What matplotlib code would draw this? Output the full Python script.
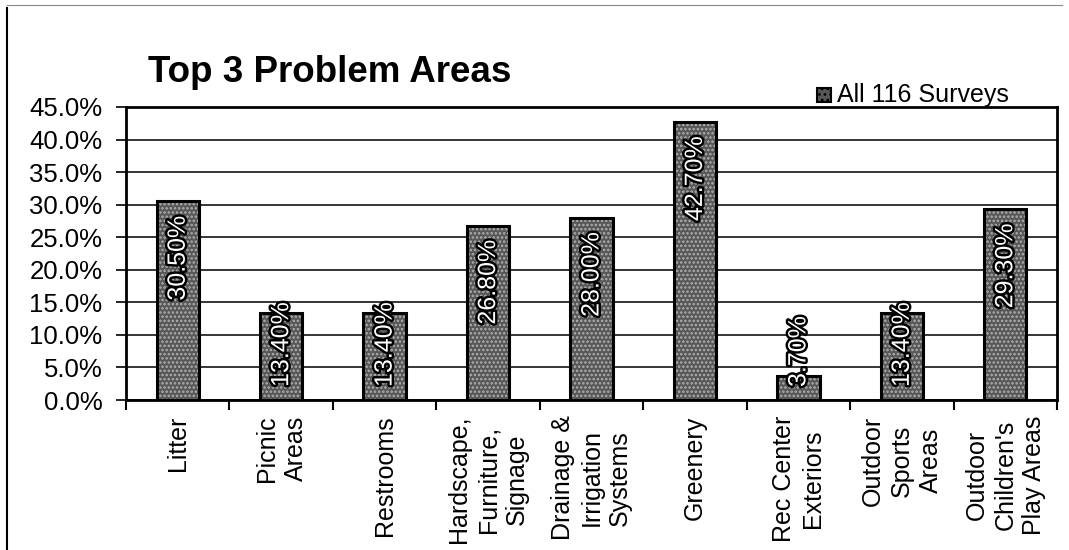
import matplotlib
matplotlib.use("Agg")
import matplotlib.pyplot as plt
import matplotlib.patheffects as pe
from matplotlib.lines import Line2D
from matplotlib.patches import Rectangle

plt.rcParams['font.family'] = ['Liberation Sans', 'DejaVu Sans']
plt.rcParams['hatch.linewidth'] = 1.2

categories = ["Litter", "Picnic\nAreas", "Restrooms", "Hardscape,\nFurniture,\nSignage",
              "Drainage &\nIrrigation\nSystems", "Greenery", "Rec Center\nExteriors",
              "Outdoor\nSports\nAreas", "Outdoor\nChildren's\nPlay Areas"]
values = [30.50, 13.40, 13.40, 26.80, 28.00, 42.70, 3.70, 13.40, 29.30]
yticks = [0, 5, 10, 15, 20, 25, 30, 35, 40, 45]
title = "Top 3 Problem Areas"
series_name = "All 116 Surveys"

W, H = 1069, 550
fig = plt.figure(figsize=(W / 100, H / 100), dpi=100)
ax = fig.add_axes([126 / W, 1 - 400 / H, (1057 - 126) / W, (400 - 107) / H])

x = list(range(len(categories)))
face = '#575757'
ax.bar(x, values, width=0.41, color=face, edgecolor='black', linewidth=2, zorder=3)
ax.bar(x, values, width=0.41, facecolor='none', edgecolor='#b0b0b0', hatch='....',
       linewidth=0, zorder=3.5)
ax.bar(x, values, width=0.41, facecolor='none', edgecolor='black', linewidth=2.2, zorder=3.6)

ax.set_xlim(-0.5, len(categories) - 0.5)
ax.set_ylim(0, 45)
ax.set_yticks(yticks)
ax.set_yticklabels([f"{v:.1f}%" for v in yticks], fontsize=18.5)
ax.set_xticks(x)
ax.set_xticklabels(categories, rotation=90, fontsize=18, ha='center', va='top',
                   multialignment='center', linespacing=1.25)
ax.set_xticks([i - 0.5 for i in range(len(categories) + 1)], minor=True)
ax.tick_params(axis='x', which='major', length=0, pad=11)
ax.tick_params(axis='x', which='minor', length=7, width=1.5, direction='out')
ax.tick_params(axis='y', length=7, width=1.2, direction='out', pad=10)

ax.grid(axis='y', color='black', linewidth=1.1, zorder=1)
for s in ['left', 'bottom', 'top', 'right']:
    ax.spines[s].set_color('black')
    ax.spines[s].set_linewidth(2)

for xi, v in zip(x, values):
    txt = f"{v:.2f}%"
    if v < 18.6:
        t = ax.text(xi, 2.0, txt, rotation=90, ha='center', va='bottom', fontsize=18,
                    color='white', zorder=5)
    else:
        t = ax.text(xi, v - 2.2, txt, rotation=90, ha='center', va='top', fontsize=18,
                    color='white', zorder=5)
    t.set_path_effects([pe.Stroke(linewidth=3.5, foreground='black'), pe.Normal()])

fig.text(148 / W, 1 - 72 / H, title, fontsize=26.5, fontweight='bold', ha='left', va='center')

# legend
fig.patches.append(Rectangle((817 / W, 1 - 102 / H), 14 / W, 14 / H, transform=fig.transFigure,
                             facecolor=face, edgecolor='black', linewidth=1.5, hatch='...'))
fig.text(837 / W, 1 - 95 / H, series_name, fontsize=18, ha='left', va='center')

# outer border
fig.lines.append(Line2D([7 / W, 7 / W], [0, 1 - 8 / H], transform=fig.transFigure,
                        color='black', linewidth=1.5))
fig.lines.append(Line2D([7 / W, 1062 / W], [1 - 5 / H, 1 - 5 / H], transform=fig.transFigure,
                        color='#888888', linewidth=0.8))

fig.savefig("out.png", dpi=100)
